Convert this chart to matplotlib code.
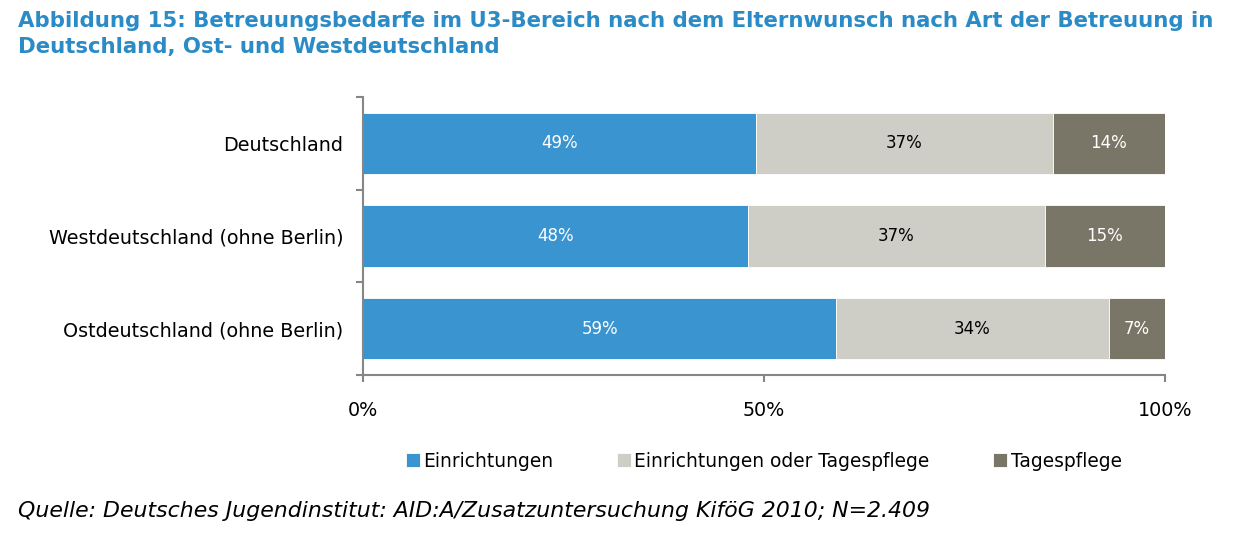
import matplotlib.pyplot as plt
import numpy as np

# data
regions = ["Deutschland", "Westdeutschland (ohne Berlin)", "Ostdeutschland (ohne Berlin)"]
series = ["Einrichtungen", "Einrichtungen oder Tagespflege", "Tagespflege"]
einr = [49, 48, 59]
einr_oder_tp = [37, 37, 34]
tagespflege = [14, 15, 7]

colors = ["#3994d0", "#cfcec6", "#797667"]
label_colors = ["white", "black", "white"]

plt.rcParams["font.family"] = ["DejaVu Sans"]

fig = plt.figure(figsize=(12.58, 5.45), dpi=100)
ax = fig.add_axes([0.2886, 0.312, 0.6375, 0.51])

y = np.arange(len(regions))
left = np.zeros(len(regions))
for vals, col, lc, name in zip([einr, einr_oder_tp, tagespflege], colors, label_colors, series):
    vals = np.array(vals, dtype=float)
    ax.barh(y, vals, left=left, height=0.66, color=col, label=name,
            edgecolor="white", linewidth=0.6)
    for yi, l, v in zip(y, left, vals):
        ax.text(l + v / 2, yi, f"{int(v)}%", ha="center", va="center",
                color=lc, fontsize=12)
    left += vals

ax.set_xlim(0, 100)
ax.set_ylim(2.5, -0.5)
ax.set_yticks(y)
ax.set_yticklabels(regions, fontsize=13.8)
ax.tick_params(axis="y", which="major", length=0, pad=14)
ax.set_yticks([-0.5, 0.5, 1.5, 2.5], minor=True)
ax.tick_params(axis="y", which="minor", length=5, width=1.5, color="#868686")
ax.set_xticks([0, 50, 100])
ax.set_xticklabels(["0%", "50%", "100%"], fontsize=13.8)
ax.tick_params(axis="x", length=5, width=1.5, color="#868686", pad=14)

for s in ["top", "right"]:
    ax.spines[s].set_visible(False)
for s in ["left", "bottom"]:
    ax.spines[s].set_color("#868686")
    ax.spines[s].set_linewidth(1.5)

fig.legend(loc="center", bbox_to_anchor=(0.607, 0.154), ncol=3, frameon=False,
           fontsize=13.4, handlelength=0.75, handleheight=0.75, handletextpad=0.2,
           columnspacing=3.4)

fig.text(0.014, 0.98, "Abbildung 15: Betreuungsbedarfe im U3-Bereich nach dem Elternwunsch nach Art der Betreuung in\n"
         "Deutschland, Ost- und Westdeutschland", ha="left", va="top",
         fontsize=15.3, fontweight="bold", color="#2b8bc6", linespacing=1.4)

fig.text(0.014, 0.062, "Quelle: Deutsches Jugendinstitut: AID:A/Zusatzuntersuchung KiföG 2010; N=2.409",
         ha="left", va="center", fontsize=15.8, style="italic", color="black")

fig.savefig("out.png", dpi=100)
